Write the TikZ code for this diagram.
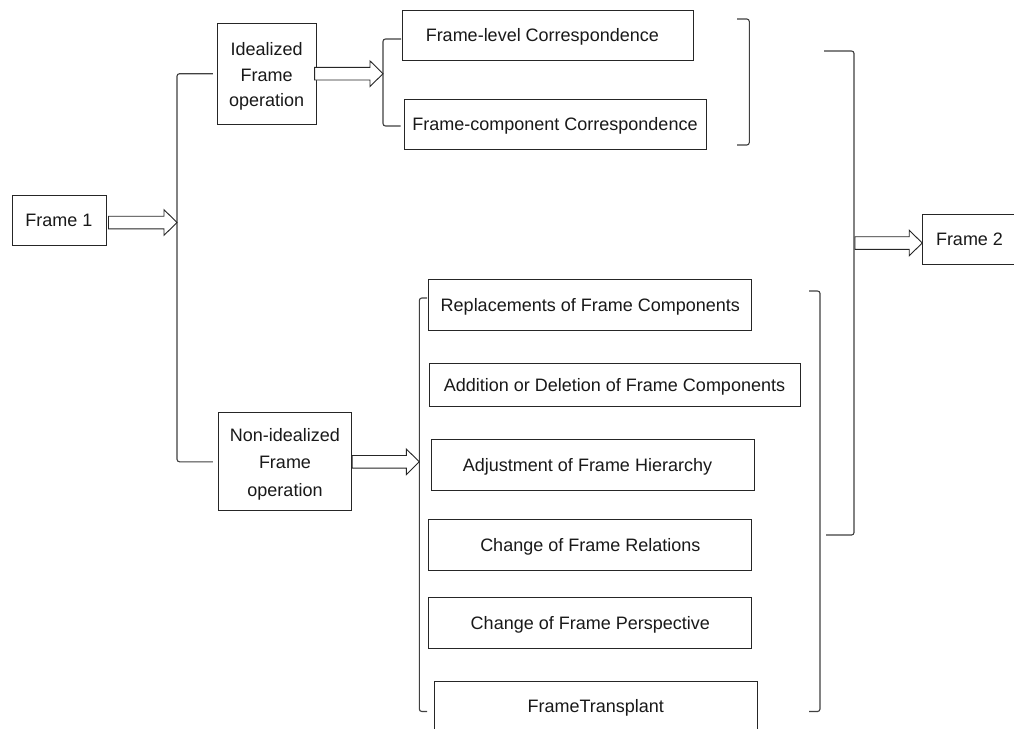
\documentclass[tikz,border=0pt]{standalone}
\usepackage{fontspec}
\setmainfont{Liberation Sans}
\usetikzlibrary{calc}
\tikzset{
  box/.style={draw=black!85, line width=1pt, inner sep=0pt, align=center,
    font=\fontsize{18}{25.5}\selectfont, text=black!90},
  one/.style={text height=17pt, text depth=4pt},
  brk/.style={draw=black!75, line width=1.1pt, rounded corners=2.5pt},
  blk/.style={draw=black!85, line width=0.9pt, fill=white, line join=miter},
}
\newcommand\blockarrow[2]{%
  \draw[blk] let \p1=(#1), \p2=(#2) in
    (\x1,\y1+6.3pt) -- (\x2-13pt,\y1+6.3pt) -- (\x2-13pt,\y1+12.8pt) -- (\x2,\y1)
    -- (\x2-13pt,\y1-12.8pt) -- (\x2-13pt,\y1-6.3pt) -- (\x1,\y1-6.3pt) -- cycle;
}
\begin{document}
\begin{tikzpicture}[x=1pt,y=-1pt]
\useasboundingbox[fill=white] (0,0) rectangle (1014,728);

% boxes
\node[box, minimum width=94pt, minimum height=50pt] (f1) at (59,220) {Frame 1};
\node[box, minimum width=98.7pt, minimum height=100.7pt] (ideal) at (266.7,73.7) {\rule{0pt}{19pt}Idealized\\Frame\\operation};
\node[box, minimum width=133.4pt, minimum height=98.3pt, font=\fontsize{18}{27.5}\selectfont] (nonideal) at (285,461.8) {\rule{0pt}{18pt}Non-idealized\\Frame\\operation};
\node[box, one, minimum width=291.3pt, minimum height=50pt] (flc) at (548.3,35) {Frame-level Correspondence\hspace*{12pt}};
\node[box, one, minimum width=302pt, minimum height=50pt] (fcc) at (555,124.3) {Frame-component Correspondence};
\node[box, one, minimum width=322.7pt, minimum height=50.7pt] (rep) at (590.3,305.3) {Replacements of Frame Components};
\node[box, one, minimum width=371pt, minimum height=43.3pt] (add) at (614.5,385) {Addition or Deletion of Frame Components};
\node[box, one, minimum width=323pt, minimum height=50.7pt] (adj) at (592.5,464.7) {Adjustment of Frame Hierarchy\hspace*{10pt}};
\node[box, one, minimum width=322.7pt, minimum height=50.7pt] (rel) at (590.3,545.3) {Change of Frame Relations};
\node[box, one, minimum width=322.7pt, minimum height=50.7pt] (per) at (590.3,623) {Change of Frame Perspective};
\node[box, one, minimum width=323pt, minimum height=50pt] (tra) at (595.8,706) {FrameTransplant};
\node[box, minimum width=100pt, minimum height=50pt] (f2) at (972.7,239.3) {Frame 2\hspace*{6.4pt}};

% bracket spines
\coordinate (LB) at (177,0);
\coordinate (ULB) at (383,0);
\coordinate (LLB) at (419.3,0);

% big left bracket
\draw[brk] ([xshift=-4pt]ideal.west) -| (LB |- nonideal.west) -- ([xshift=-5pt]nonideal.west);
% upper left bracket
\draw[brk] ([xshift=-1pt,yshift=-4pt]flc.west) -| (ULB |- 0,126) -- ([xshift=-3pt,yshift=-1.7pt]fcc.west);
% lower left bracket
\draw[brk] (427,298) -| (LLB |- 0,711.5) -- (427,711.5);
% upper right bracket
\draw[brk] (737,19) -| (749.3,145) -- (737,145);
% lower right bracket
\draw[brk] (809,291) -| (820,711.5) -- (809,711.5);
% big right bracket
\draw[brk] (824,51) -| (854,535) -- (826,535);
\coordinate (RBa) at (855,243);

% block arrows
\blockarrow{[xshift=2pt,yshift=-2.5pt]f1.east}{LB}
\blockarrow{[xshift=-2pt]ideal.east}{ULB}
\blockarrow{nonideal.east}{LLB}
\blockarrow{RBa}{f2.west}
\end{tikzpicture}
\end{document}
